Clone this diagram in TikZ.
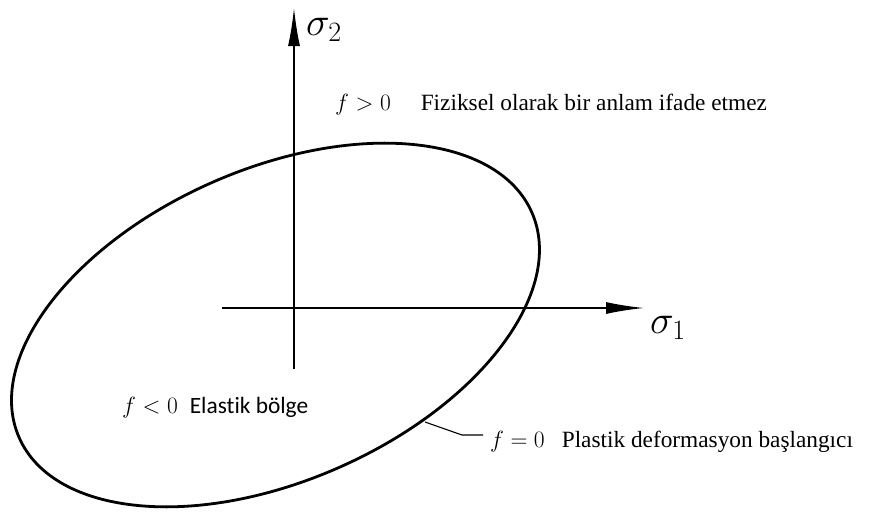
\documentclass[tikz,border=0pt]{standalone}
\usepackage{fix-cm}
\usepackage{amsmath,amssymb}
\usepackage{fontspec}
\setmainfont{Liberation Serif}
\newfontfamily\calib[Ligatures=NoCommon]{Carlito}
\usetikzlibrary{arrows.meta,positioning,calc}
\newcommand{\fmath}[1]{{\fontsize{23.5}{27}\selectfont$#1$}}

\begin{document}
\begin{tikzpicture}[x=1pt, y=-1pt,
    axis/.style={-{Latex[length=38pt, width=12pt]}, line width=1.6pt},
    yield/.style={line width=2.8pt},
    lead/.style={line width=1.1pt},
    lbl/.style={anchor=base west, inner sep=0pt, font=\fontsize{23.3}{27}\selectfont},
    sig/.style={anchor=base west, inner sep=0pt, font=\fontsize{40}{44}\selectfont}
]
\useasboundingbox (0,0) rectangle (869,512);

% eksenler
\coordinate (xa) at (222,308);
\coordinate (xb) at (644,308);
\coordinate (ya) at (294,369);
\coordinate (yb) at (294,8);
\draw[axis] (xa) -- (xb);
\draw[axis] (ya) -- (yb);
\node[sig] (s1) at (650,333) {$\sigma_1$};
\node[sig] (s2) at (306,35) {$\sigma_2$};

% akma yuzeyi
\coordinate (c) at (275.5,325);
\draw[yield, rotate around={23.7:(c)}] (c) ellipse [x radius=280, y radius=156];

% etiketler
\node[lbl] (fp) at (335,110) {\fmath{f>0}\hspace{30pt}Fiziksel olarak bir anlam ifade etmez};
\node[lbl] (fn) at (122,413) {\fmath{f<0}\hspace{12pt}{\calib\fontsize{23.4}{27}\selectfont Elastik bölge}};
\node[lbl] (fz) at (490,447) {\fmath{f=0}\hspace{17pt}Plastik deformasyon başlangıcı};

\coordinate (p) at (425,422);
\coordinate (q) at (462,435);
\coordinate (r) at (483,435);
\draw[lead] (p) -- (q) -- (r);
\end{tikzpicture}
\end{document}
